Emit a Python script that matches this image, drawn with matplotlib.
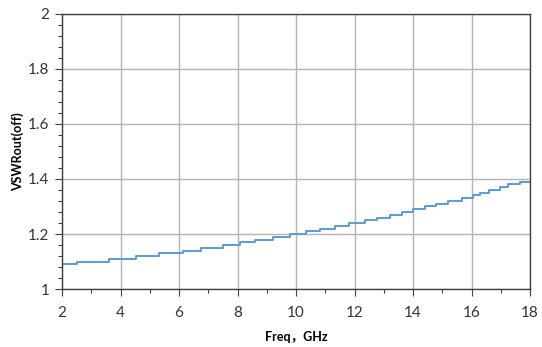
import matplotlib
matplotlib.use('Agg')
import matplotlib.pyplot as plt
from matplotlib.ticker import MultipleLocator

# step edges (GHz) and VSWR level held from each edge
freq = [2.0, 2.5, 3.62, 4.53, 5.33, 6.13, 6.74, 7.49, 8.08, 8.6, 9.22, 9.79,
        10.34, 10.82, 11.33, 11.82, 12.36, 12.78, 13.21, 13.61, 14.01, 14.41,
        14.78, 15.2, 15.66, 16.06, 16.29, 16.58, 16.97, 17.26, 17.66, 18.0]
vswr = [1.09, 1.10, 1.11, 1.12, 1.13, 1.14, 1.15, 1.16, 1.17, 1.18, 1.19, 1.20,
        1.21, 1.22, 1.23, 1.24, 1.25, 1.26, 1.27, 1.28, 1.29, 1.30,
        1.31, 1.32, 1.33, 1.34, 1.35, 1.36, 1.37, 1.38, 1.39, 1.39]

xlabel = 'Freq，GHz'
ylabel = 'VSWRout(off)'
title = 'VSWR output port off, typical range'

plt.rcParams['font.family'] = ['Lato', 'Noto Sans CJK SC', 'DejaVu Sans']

fig = plt.figure(figsize=(5.42, 3.47), dpi=100)
ax = fig.add_axes([0.1144, 0.167, 0.8636, 0.793])

ax.plot(freq, vswr, drawstyle='steps-post', color='#5b9bd5', lw=1.4)

ax.set_xlim(2, 18)
ax.set_ylim(1, 2)
ax.xaxis.set_major_locator(MultipleLocator(2))
ax.xaxis.set_minor_locator(MultipleLocator(1))
ax.yaxis.set_major_locator(MultipleLocator(0.2))
ax.yaxis.set_minor_locator(MultipleLocator(0.04))
ax.yaxis.set_major_formatter(plt.FuncFormatter(lambda v, p: '%g' % round(v, 1)))

ax.grid(True, which='major', color='#b4b4b4', lw=1)
ax.set_axisbelow(True)
for s in ax.spines.values():
    s.set_color('#404040')
    s.set_linewidth(1)

ax.tick_params(which='major', direction='out', length=5, width=0.8, color='#404040',
               labelsize=11, labelcolor='#333333', pad=4)
ax.tick_params(which='minor', direction='out', length=3, width=0.8, color='#404040')
ax.tick_params(axis='x', which='major', pad=7)

ax.set_xlabel(xlabel, fontsize=9, fontweight='bold', labelpad=8)
ax.set_ylabel(ylabel, fontsize=9, fontweight='bold', labelpad=3)

fig.text(0.55, 1.012, title, ha='center', va='baseline', fontsize=13)

plt.savefig('out.png', dpi=100)
